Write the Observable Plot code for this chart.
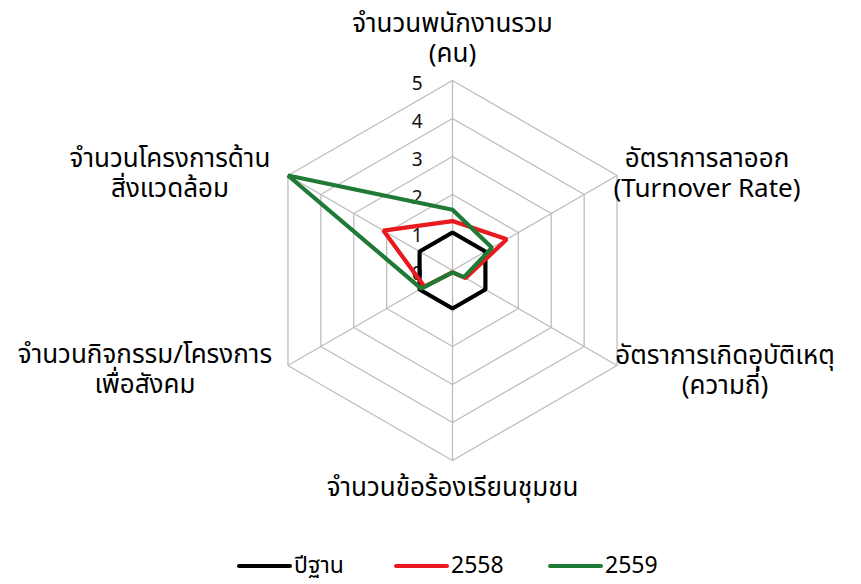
<!DOCTYPE html>
<html>
<head>
<meta charset="utf-8">
<script src="https://cdn.jsdelivr.net/npm/d3@7"></script>
<script src="https://cdn.jsdelivr.net/npm/@observablehq/plot@0.6"></script>
<style>
  body { margin: 0; background: #fff; font-family: Tahoma, "Noto Sans Thai", "Noto Sans Thai UI", Loma, Garuda, "Noto Sans", sans-serif; overflow: hidden; width: 861px; height: 584px; position: relative; }
  #legend { position: absolute; left: 0; top: 553px; width: 861px; height: 26px; font-size: 23px; color: #000; }
  .item { position: absolute; top: 0; display: flex; align-items: center; height: 26px; }
  .sw { width: 55px; height: 4px; margin-right: 2px; border-radius: 2px; }
  .lt { display: inline-block; line-height: 26px; height: 26px; }
</style>
</head>
<body>
<div id="chart"></div>
<div id="legend"></div>
<script>
// ---- data ----
const axisLabels = [
  "จำนวนพนักงานรวม\n(คน)",
  "อัตราการลาออก\n(Turnover Rate)",
  "อัตราการเกิดอุบัติเหตุ\n(ความถี่)",
  "จำนวนข้อร้องเรียนชุมชน",
  "จำนวนกิจกรรม/โครงการ\nเพื่อสังคม",
  "จำนวนโครงการด้าน\nสิ่งแวดล้อม"
];
const seriesNames = ["ปีฐาน", "2558", "2559"];
const baseYear = [1, 1, 1, 1, 1, 1];
const year2558 = [1.3, 1.65, 0.4, 0.05, 0.85, 2.1];
const year2559 = [1.6, 1.2, 0.35, 0.05, 0.95, 5];
const ringTicks = [0, 1, 2, 3, 4, 5];

// ---- styling / layout ----
const colors = ["#000000", "#e8191f", "#1f7a35"];
const legendX = [237, 394, 548];
const pxPerUnit = 38;
const W = 861, H = 540, cx = 452, cy = 270;
const labelOffsets = [[0, -43], [90, -3], [108, 4], [0, 26], [-143, 3], [-118, -3]];

const n = axisLabels.length;
const maxV = d3.max(ringTicks);
const ang = i => (i * 2 * Math.PI) / n;
const px = (v, i) => v * Math.sin(ang(i));
const py = (v, i) => v * Math.cos(ang(i));

const seriesValues = [baseYear, year2558, year2559];
const seriesData = seriesNames.flatMap((s, k) => seriesValues[k].map((v, i) => ({series: s, i, v})));
const ringData = ringTicks.filter(r => r > 0).flatMap(r => axisLabels.map((_, i) => ({r, i})));
const spokeData = axisLabels.map((_, i) => i);

const chart = Plot.plot({
  width: W,
  height: H,
  margin: 0,
  x: {domain: [-cx / pxPerUnit, (W - cx) / pxPerUnit], axis: null},
  y: {domain: [-(H - cy) / pxPerUnit, cy / pxPerUnit], axis: null},
  color: {domain: seriesNames, range: colors},
  style: {fontFamily: 'Tahoma, "Noto Sans Thai", Loma, Garuda, "Noto Sans", sans-serif', background: "#fff", color: "#000"},
  marks: [
    Plot.line(ringData, {x: d => px(d.r, d.i), y: d => py(d.r, d.i), z: "r", curve: "linear-closed", stroke: "#bdbdbd", strokeWidth: 1.3}),
    Plot.link(spokeData, {x1: 0, y1: 0, x2: i => px(maxV, i), y2: i => py(maxV, i), stroke: "#bdbdbd", strokeWidth: 1.3}),
    Plot.text(ringTicks, {x: 0, y: d => d, text: d => String(d), textAnchor: "end", dx: -30, dy: 3, fontSize: 19, fill: "#111"}),
    ...axisLabels.map((lab, i) => Plot.text([i], {
      x: j => px(maxV, j), y: j => py(maxV, j), text: j => axisLabels[j],
      dx: labelOffsets[i][0], dy: labelOffsets[i][1],
      textAnchor: "middle", lineAnchor: "middle", lineHeight: 1.16, fontSize: 26, fill: "#000"
    })),
    Plot.line(seriesData, {x: d => px(d.v, d.i), y: d => py(d.v, d.i), z: "series", stroke: "series", curve: "linear-closed", strokeWidth: 4.2, strokeLinejoin: "miter"})
  ]
});
document.getElementById("chart").appendChild(chart);

const legend = document.getElementById("legend");
seriesNames.forEach((s, k) => {
  const it = document.createElement("div");
  it.className = "item";
  it.style.left = legendX[k] + "px";
  it.innerHTML = `<div class="sw" style="background:${colors[k]}"></div><span class="lt">${s}</span>`;
  legend.appendChild(it);
});
</script>
</body>
</html>
